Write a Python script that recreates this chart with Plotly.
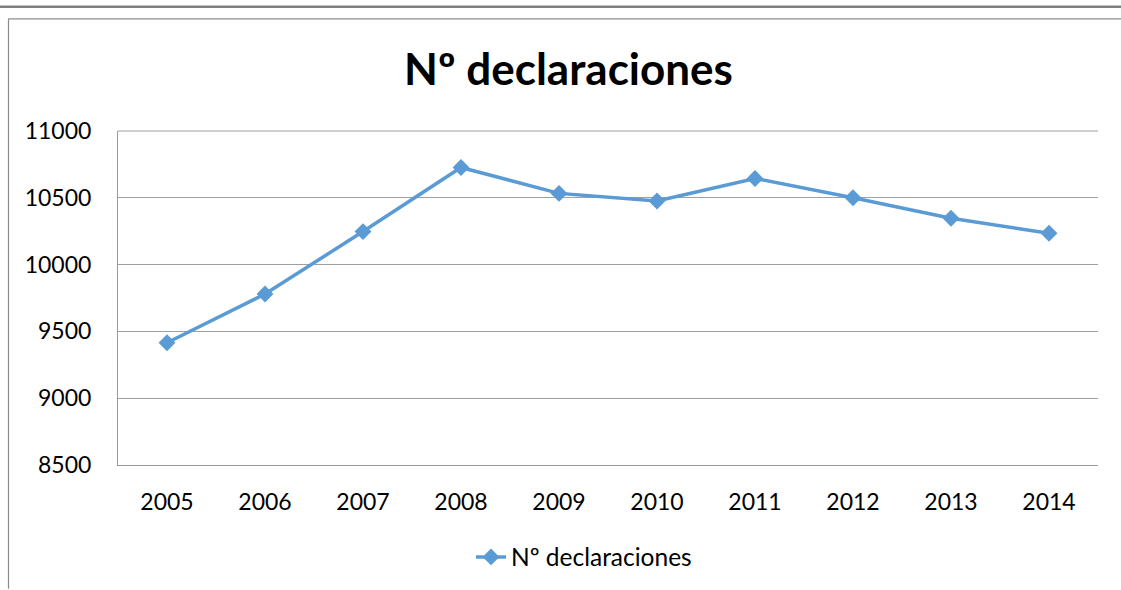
import plotly.graph_objects as go

years = ["2005", "2006", "2007", "2008", "2009", "2010", "2011", "2012", "2013", "2014"]
declaraciones = [9415, 9780, 10247, 10727, 10533, 10476, 10645, 10500, 10347, 10235]
y_ticks = [8500, 9000, 9500, 10000, 10500, 11000]
y_tick_labels = ["8500", "9000", "9500", "10000", "10500", "11000"]
series_name = "Nº declaraciones"
title_text = "Nº declaraciones"

W, H = 1121, 590
L, R, T, B = 118, 1098, 131, 466  # plot area in pixels

def px_x(p):
    return (p - L) / (R - L)

def px_y(p):
    return (B - p) / (B - T)

FONT = "Lato"
BLUE = "#5b9bd5"

fig = go.Figure()
fig.add_trace(go.Scatter(
    x=years, y=declaraciones, mode="lines+markers", name=series_name,
    line=dict(color=BLUE, width=3.5),
    marker=dict(symbol="diamond", size=13, color=BLUE),
))

fig.update_layout(
    width=W, height=H,
    margin=dict(l=L, r=W - R, t=T, b=H - B),
    paper_bgcolor="white", plot_bgcolor="white",
    font=dict(family=FONT, size=23, color="#000000"),
    title=dict(text="<b>" + title_text + "</b>", font=dict(family=FONT, size=44, color="#000000"),
               xref="container", x=568.5 / W, xanchor="center",
               yref="container", y=1 - 70 / H, yanchor="middle"),
    showlegend=True,
    legend=dict(orientation="h", x=px_x(584), xanchor="center", y=px_y(557), yanchor="middle",
                font=dict(family=FONT, size=24.5, color="#000000"), bgcolor="rgba(0,0,0,0)"),
    xaxis=dict(type="category", range=[-0.5, 9.5], showgrid=False, showline=True,
               linecolor="#9a9a9a", linewidth=1, ticks="", ticklabelstandoff=16,
               tickfont=dict(family=FONT, size=23, color="#000000"), fixedrange=True),
    yaxis=dict(range=[8500, 11000], tickvals=y_ticks, ticktext=y_tick_labels, showgrid=True,
               gridcolor="#a0a0a0", gridwidth=1, showline=True, linecolor="#9a9a9a", linewidth=1,
               ticks="", ticklabelstandoff=21, zeroline=False, fixedrange=True,
               tickfont=dict(family=FONT, size=23, color="#000000")),
    shapes=[
        dict(type="line", xref="paper", yref="paper", x0=px_x(0), x1=px_x(W), y0=px_y(6.5), y1=px_y(6.5),
             line=dict(color="#7f7f7f", width=2.5)),
        dict(type="line", xref="paper", yref="paper", x0=px_x(8.5), x1=px_x(W), y0=px_y(18.5), y1=px_y(18.5),
             line=dict(color="#8c8c8c", width=1.2)),
        dict(type="line", xref="paper", yref="paper", x0=px_x(8.5), x1=px_x(8.5), y0=px_y(18.5), y1=px_y(H),
             line=dict(color="#8c8c8c", width=1.2)),
        dict(type="line", xref="paper", yref="paper", x0=0, x1=1, y0=1, y1=1,
             line=dict(color="#a0a0a0", width=1)),
    ],
)

fig.write_html(
    "out.html", config={"displayModeBar": False, "staticPlot": True},
    post_script=(
        "document.body.style.margin='0';document.body.style.padding='0';"
        "document.body.style.overflow='hidden';document.documentElement.style.overflow='hidden';"
    ),
)
